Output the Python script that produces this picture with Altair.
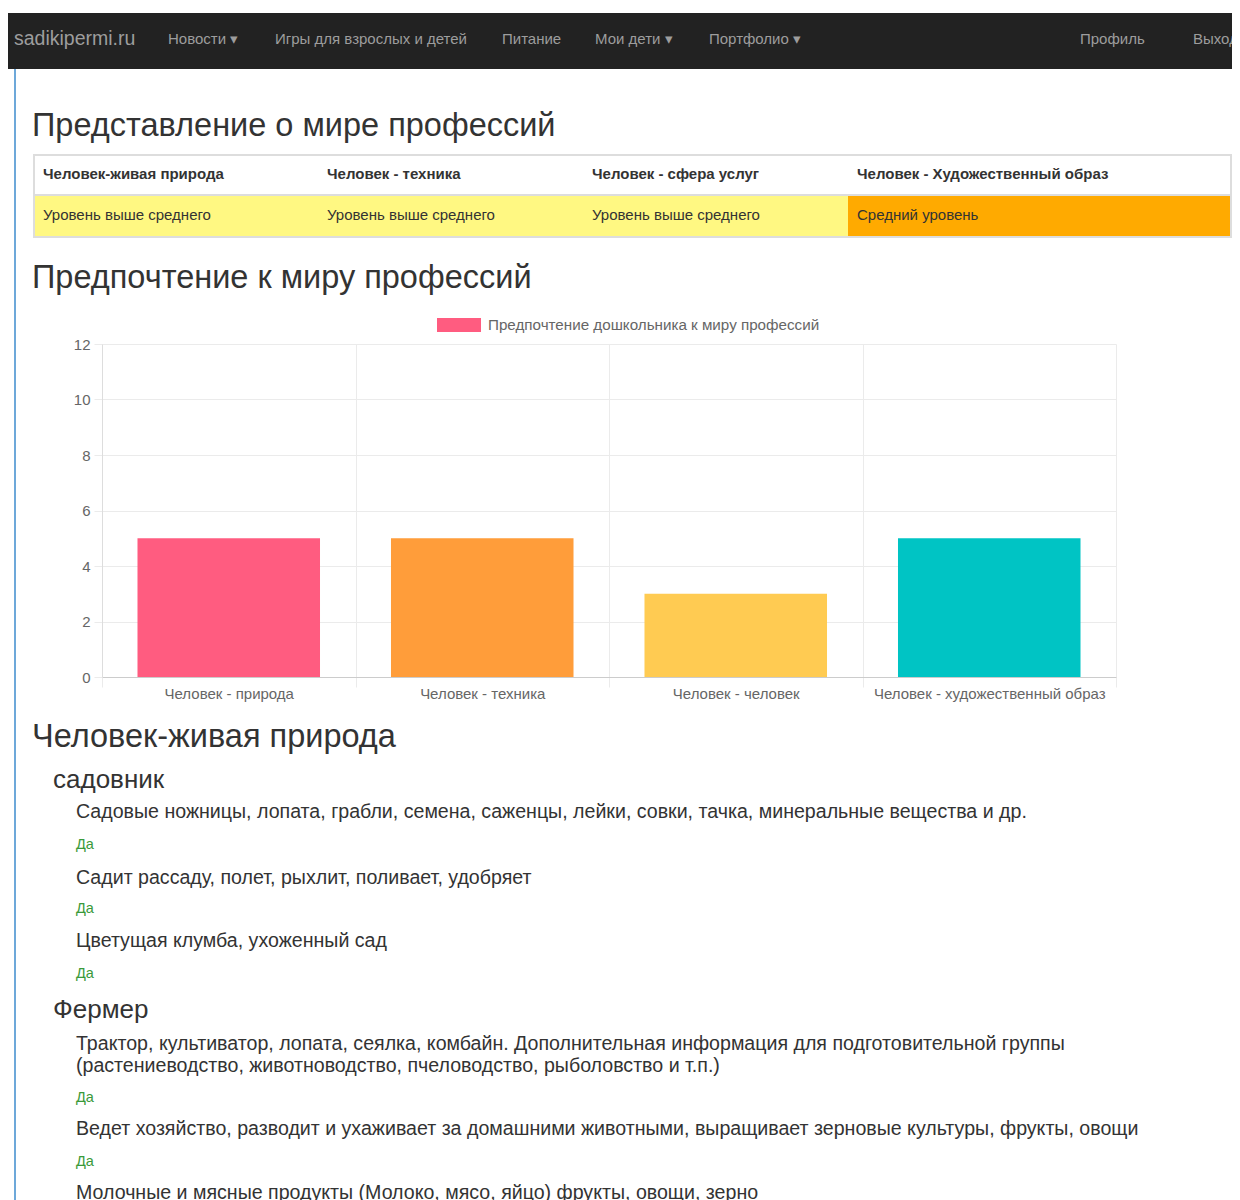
import altair as alt
import pandas as pd

# ---------------- data ----------------
categories = ["Человек - природа", "Человек - техника", "Человек - человек",
              "Человек - художественный образ"]
values = [5, 5, 3, 5]
series_label = "Предпочтение дошкольника к миру профессий"
y_ticks = [0, 2, 4, 6, 8, 10, 12]

brand = "sadikipermi.ru"
nav_items = ["Новости ▾", "Игры для взрослых и детей", "Питание", "Мои дети ▾",
             "Портфолио ▾", "Профиль", "Выход"]
heading_1 = "Представление о мире профессий"
table_headers = ["Человек-живая природа", "Человек - техника", "Человек - сфера услуг",
                 "Человек - Художественный образ"]
table_levels = ["Уровень выше среднего", "Уровень выше среднего", "Уровень выше среднего",
                "Средний уровень"]
level_names = ["Уровень выше среднего", "Средний уровень"]
heading_2 = "Предпочтение к миру профессий"
section_title = "Человек-живая природа"
answer = "Да"
gardener = "садовник"
gardener_items = [
    "Садовые ножницы, лопата, грабли, семена, саженцы, лейки, совки, тачка, минеральные вещества и др.",
    "Садит рассаду, полет, рыхлит, поливает, удобряет",
    "Цветущая клумба, ухоженный сад",
]
farmer = "Фермер"
farmer_items = [
    "Трактор, культиватор, лопата, сеялка, комбайн. Дополнительная информация для подготовительной группы\n(растениеводство, животноводство, пчеловодство, рыболовство и т.п.)",
    "Ведет хозяйство, разводит и ухаживает за домашними животными, выращивает зерновые культуры, фрукты, овощи",
    "Молочные и мясные продукты (Молоко, мясо, яйцо) фрукты, овощи, зерно",
]

# ---------------- styles / layout ----------------
FONT = "Liberation Sans"
TEXT = "#333333"
MUTED = "#666666"
NAV_TEXT = "#9d9d9d"
BLUE = "#3d8bcd"
GREEN = "#3a9a3a"
GRID = "#ebebeb"
palette = ["#ff5c80", "#ff9d3a", "#ffcb52", "#00c4c4"]
level_colors = ["#fff882", "#ffaa00"]

OY = 8             # page y of the first panel's top
OX = 102           # page x of the common panel origin (plot's left edge)
LEFT = 8 - OX      # local x of the page's left content edge (-94)
W = 1232 - OX      # panel width to the right of the origin
PLOT_W, PLOT_H = 1014, 333
HA = 287           # top panel height
A_BOTTOM = 288     # the second heading's glyph box reaches just below HA
EXT_TOP = 48       # vertical extent reserved above the plot (legend)
EXT_BOT = 31       # vertical extent reserved below the plot (labels)
D_TOP = OY + A_BOTTOM + EXT_TOP + PLOT_H + EXT_BOT
HD = 1212 - D_TOP


def one():
    return pd.DataFrame({"k": [0]})


def texts(df, size, color, weight="normal", clip=False):
    return alt.Chart(df).mark_text(
        align="left", baseline="middle", fontSize=size, color=color,
        font=FONT, fontWeight=weight, clip=clip
    ).encode(
        x=alt.X("x:Q", scale=None),
        y=alt.Y("y:Q", scale=None),
        text="text:N",
    )


def blue_line(y0, y1):
    # thin filled rect: its bounds are exact (no stroke padding)
    return alt.Chart(one()).mark_rect(color=BLUE).encode(
        x=alt.value(14.25 - OX), x2=alt.value(15.75 - OX),
        y=alt.value(y0), y2=alt.value(y1))


# ---------------- panel A: navbar, first heading, table, second heading ----------------
navbar = alt.Chart(one()).mark_rect(color="#222222").encode(
    x=alt.value(LEFT), x2=alt.value(W), y=alt.value(13 - OY), y2=alt.value(69 - OY))

nav_x = [168, 275, 502, 595, 709, 1080, 1193]
brand_df = pd.DataFrame({"text": [brand], "x": [14 - OX], "y": [39 - OY]})
nav_df = pd.DataFrame({"text": nav_items, "x": [v - OX for v in nav_x],
                       "y": [39 - OY] * len(nav_items)})

h1_df = pd.DataFrame({"text": [heading_1, heading_2], "x": [32 - OX] * 2,
                      "y": [126 - OY, 278 - OY]})

col_edges = [34, 318, 583, 848, 1231]
cells_df = pd.DataFrame({
    "level": table_levels,
    "x0": [v - OX for v in col_edges[:-1]],
    "x1": [v - OX for v in col_edges[1:]],
})
level_rects = alt.Chart(cells_df).mark_rect().encode(
    x=alt.X("x0:Q", scale=None), x2="x1:Q",
    y=alt.value(196 - OY), y2=alt.value(236 - OY),
    color=alt.Color("level:N", scale=alt.Scale(domain=level_names, range=level_colors),
                    legend=None),
)
table_box = alt.Chart(one()).mark_rect(fill="white", fillOpacity=0, stroke="#dddddd",
                                        strokeWidth=2).encode(
    x=alt.value(34 - OX), x2=alt.value(1231 - OX), y=alt.value(155 - OY),
    y2=alt.value(237 - OY))
row_line = alt.Chart(one()).mark_rule(color="#dddddd", strokeWidth=2).encode(
    x=alt.value(34 - OX), x2=alt.value(1231 - OX), y=alt.value(195 - OY))

head_df = pd.DataFrame({"text": table_headers, "x": [v + 9 - OX for v in col_edges[:-1]],
                        "y": [174 - OY] * 4})
lvl_df = pd.DataFrame({"text": table_levels, "x": [v + 9 - OX for v in col_edges[:-1]],
                       "y": [215 - OY] * 4})

panel_a = alt.layer(
    navbar, blue_line(69 - OY, A_BOTTOM),
    texts(brand_df, 19.5, NAV_TEXT),
    texts(nav_df, 15, NAV_TEXT, clip=True),
    texts(h1_df, 32.5, TEXT),
    level_rects, table_box, row_line,
    texts(head_df, 15, TEXT, "bold"),
    texts(lvl_df, 15, TEXT),
).properties(width=W, height=HA)

# ---------------- panel C: the bar chart ----------------
bars_df = pd.DataFrame({"category": categories, "value": values})
bars = alt.Chart(bars_df).mark_bar(width=alt.RelativeBandSize(0.72)).encode(
    x=alt.X("category:N", sort=categories, title=None,
            scale=alt.Scale(paddingInner=0, paddingOuter=0),
            axis=alt.Axis(labelAngle=0, tickBand="extent", grid=True, gridColor=GRID,
                          tickColor=GRID, tickSize=10, labelPadding=6, labelFontSize=15,
                          labelColor=MUTED, labelFont=FONT, domainColor="#cccccc",
                          labelBaseline="middle", labelLimit=600)),
    y=alt.Y("value:Q", title=None, scale=alt.Scale(domain=[0, 12], nice=False),
            axis=alt.Axis(values=y_ticks, tickSize=8, labelPadding=4, gridColor=GRID,
                          tickColor=GRID, domainColor="#dddddd", labelFontSize=15,
                          labelColor=MUTED, labelFont=FONT, minExtent=-LEFT,
                          maxExtent=-LEFT)),
    color=alt.Color(
        "category:N", sort=categories,
        scale=alt.Scale(domain=categories, range=palette),
        legend=alt.Legend(values=[categories[0]], labelExpr=f"'{series_label}'",
                          orient="none", legendX=335, legendY=-41, title=None,
                          symbolType="M-1,-0.32H1V0.32H-1Z", symbolSize=1936,
                          symbolStrokeWidth=0, symbolOpacity=1, labelFontSize=15.2,
                          labelColor=MUTED, labelFont=FONT, labelOffset=7, padding=0,
                          labelLimit=600),
    ),
)
panel_c = alt.layer(bars, blue_line(-EXT_TOP, PLOT_H + EXT_BOT)).properties(
    width=PLOT_W, height=PLOT_H)

# ---------------- panel D: details ----------------
rows = []
ys = iter([737, 780, 812, 845, 878, 909, 941, 974, 1010, 1044, 1066, 1098, 1129, 1162, 1193])
rows.append(("h2", section_title, 32, next(ys)))
for prof, items in [(gardener, gardener_items), (farmer, farmer_items)]:
    rows.append(("h3", prof, 53, next(ys)))
    for i, item in enumerate(items):
        for line in item.split("\n"):
            rows.append(("p", line, 76, next(ys)))
        if prof == farmer and i == len(items) - 1:
            break
        rows.append(("yes", answer, 76, next(ys)))
d_df = pd.DataFrame(rows, columns=["kind", "text", "x", "y"])
d_df["x"] = d_df["x"] - OX
d_df["y"] = d_df["y"] - D_TOP

panel_d = alt.layer(
    blue_line(0, HD),
    texts(d_df[d_df.kind == "h2"], 32.5, TEXT),
    texts(d_df[d_df.kind == "h3"], 26, TEXT),
    texts(d_df[d_df.kind == "p"], 19.6, TEXT),
    texts(d_df[d_df.kind == "yes"], 14.5, GREEN),
).properties(width=W, height=HD)

chart = alt.vconcat(panel_a, panel_c, panel_d, spacing=0).resolve_scale(
    color="independent"
).properties(
    padding=0, background="white"
).configure(font=FONT).configure_view(strokeWidth=0, stroke="transparent")

chart.save("out.html", embed_options={"renderer": "svg", "actions": False})
